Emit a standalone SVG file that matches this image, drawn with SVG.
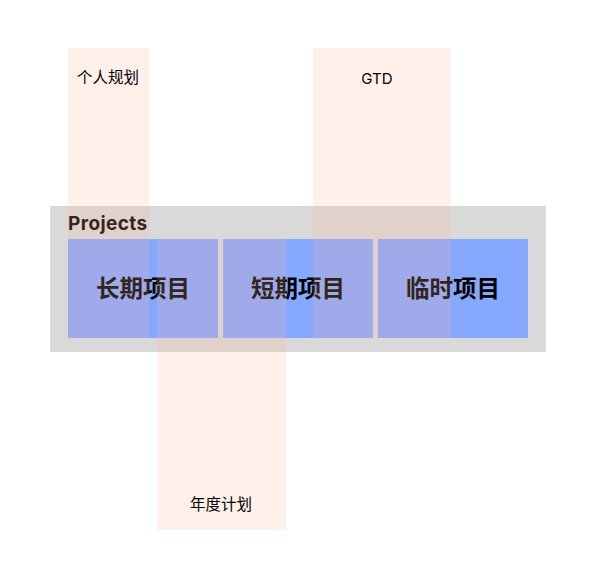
<svg xmlns="http://www.w3.org/2000/svg" width="595" height="578" viewBox="0 0 595 578">
<style>
.band{fill:#d9d9d9}
.box{fill:#86a8ff}
.col{fill:rgb(255,180,150);fill-opacity:0.2}
.big{font-family:"Noto Sans CJK SC","Noto Sans",sans-serif;font-weight:700;font-size:23.5px;fill:#000;text-anchor:middle}
.title{font-family:Inter,"Noto Sans",sans-serif;font-weight:700;font-size:19px;letter-spacing:0.4px;fill:#000}
.lbl{font-family:"Noto Sans CJK SC","Noto Sans",sans-serif;font-size:15.5px;fill:#000;text-anchor:middle}
.lbl2{font-family:Inter,"Noto Sans",sans-serif;font-size:15px;fill:#000;text-anchor:middle}
</style>
<rect width="595" height="578" fill="#fff"/>
<g id="projects">
<rect class="band" x="50" y="206" width="496" height="146"/>
<text class="title" x="68" y="230">Projects</text>
</g>
<g id="long-term">
<rect class="box" x="68" y="239" width="150" height="99"/>
<text class="big" x="143" y="297">长期项目</text>
</g>
<g id="short-term">
<rect class="box" x="223" y="239" width="150" height="99"/>
<text class="big" x="298" y="297">短期项目</text>
</g>
<g id="temporary">
<rect class="box" x="378" y="239" width="150" height="99"/>
<text class="big" x="453" y="297">临时项目</text>
</g>
<g id="personal-plan">
<rect class="col" x="68" y="48" width="81" height="290"/>
<text class="lbl" x="108" y="83">个人规划</text>
</g>
<g id="gtd">
<rect class="col" x="313" y="48" width="138" height="290"/>
<text class="lbl2" x="377" y="84">GTD</text>
</g>
<g id="annual-plan">
<rect class="col" x="157" y="239" width="129" height="291"/>
<text class="lbl" x="221" y="510">年度计划</text>
</g>
</svg>
